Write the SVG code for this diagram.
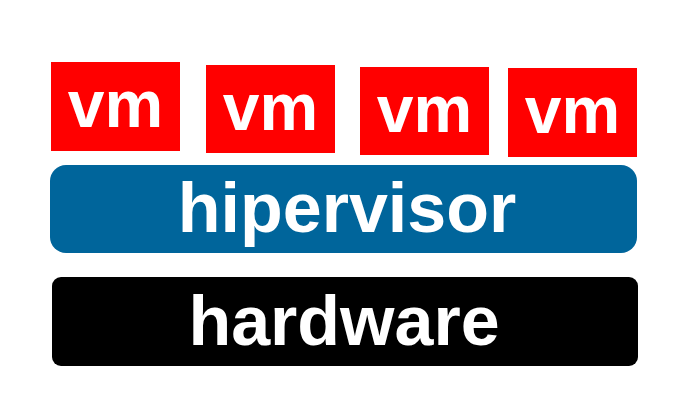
<svg xmlns="http://www.w3.org/2000/svg" width="700" height="400" viewBox="0 0 700 400">
<style>
.vm{fill:#ff0000}
.t{font-family:"Liberation Sans",Arial,sans-serif;font-weight:bold;fill:#fff;text-anchor:middle}
.vt{font-size:66px}
.bt{font-size:70px}
</style>
<rect width="700" height="400" fill="#fff"/>
<g id="vm1"><rect class="vm" x="51" y="62" width="129" height="89"/><text class="t vt" x="115.5" y="127">vm</text></g>
<g id="vm2"><rect class="vm" x="206" y="65" width="129" height="88"/><text class="t vt" x="270.5" y="130">vm</text></g>
<g id="vm3"><rect class="vm" x="360" y="67" width="129" height="88"/><text class="t vt" x="424.5" y="132">vm</text></g>
<g id="vm4"><rect class="vm" x="508" y="68" width="129" height="89"/><text class="t vt" x="572.5" y="133">vm</text></g>
<g id="hipervisor"><rect x="50" y="165" width="587" height="88" rx="16" fill="#00659b"/><text class="t bt" x="347" y="232">hipervisor</text></g>
<g id="hardware"><rect x="52" y="277" width="586" height="89" rx="9" fill="#000"/><text class="t bt" x="344" y="345">hardware</text></g>
<g id="connectors"/>
</svg>
